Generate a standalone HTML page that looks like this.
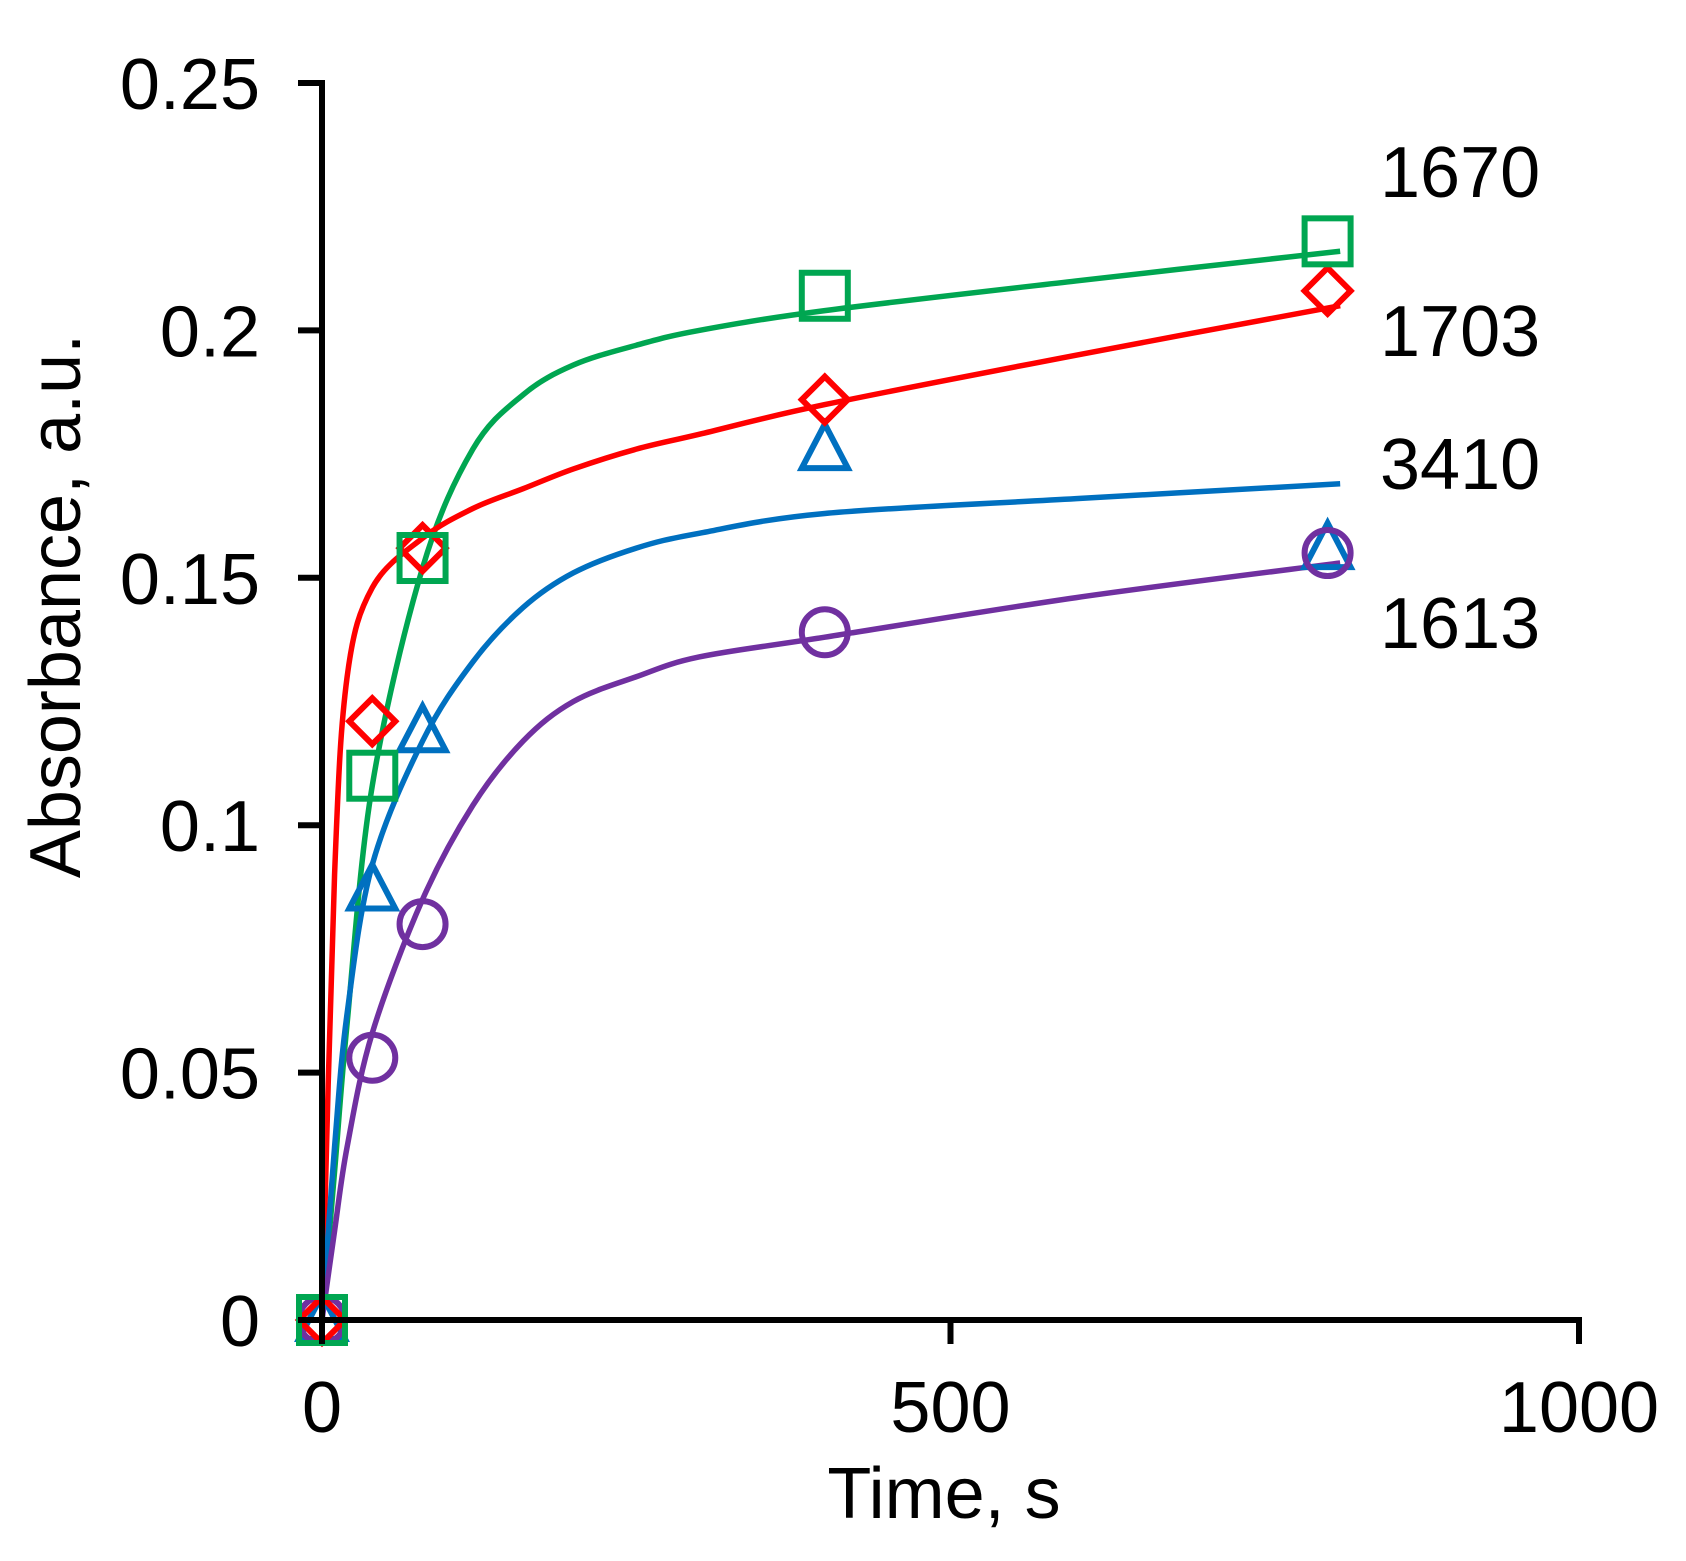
<!DOCTYPE html>
<html><head><meta charset="utf-8"><style>
html,body{margin:0;padding:0;background:#fff;}
svg{display:block;}
text{font-family:"Liberation Sans",Arial,sans-serif;fill:#000;}
</style></head><body>
<svg id="chart" width="1686" height="1561" viewBox="0 0 1686 1561" xmlns="http://www.w3.org/2000/svg">
<g id="curves"></g>
<g id="markers"></g>
<g id="axes"></g>
<text x="944" y="1518" font-size="72" text-anchor="middle">Time, s</text>
<text transform="translate(80,606) rotate(-90)" font-size="72" text-anchor="middle">Absorbance, a.u.</text>
</svg>
<script>
const xTicks = [0, 500, 1000];
const yTicks = [0, 0.05, 0.1, 0.15, 0.2, 0.25];
const yTickLabels = ["0", "0.05", "0.1", "0.15", "0.2", "0.25"];
const times = [0, 40, 80, 400, 800];
const s1670 = [0, 0.110, 0.154, 0.207, 0.218];
const s1703 = [0, 0.121, 0.156, 0.186, 0.208];
const s3410 = [0, 0.087, 0.119, 0.176, 0.156];
const s1613 = [0, 0.053, 0.080, 0.139, 0.155];
const fitT = [0, 10, 20, 40, 80, 120, 160, 200, 250, 300, 400, 600, 810];
const fit1670 = [0, 0.03, 0.06, 0.108, 0.152, 0.176, 0.187, 0.193, 0.197, 0.200, 0.204, 0.210, 0.216];
const fit1703 = [0, 0.09, 0.13, 0.148, 0.158, 0.164, 0.168, 0.172, 0.176, 0.179, 0.185, 0.195, 0.205];
const fit3410 = [0, 0.035, 0.062, 0.092, 0.117, 0.133, 0.144, 0.151, 0.156, 0.159, 0.163, 0.166, 0.169];
const fit1613 = [0, 0.018, 0.035, 0.058, 0.085, 0.104, 0.117, 0.125, 0.130, 0.134, 0.138, 0.146, 0.153];
const labels = ["1670", "1703", "3410", "1613"];

const X0 = 322, X1 = 1579, Y0 = 1320, Y1 = 83;
const sx = t => X0 + t / 1000 * (X1 - X0);
const sy = v => Y0 - v / 0.25 * (Y0 - Y1);
const NS = "http://www.w3.org/2000/svg";
function mk(tag, attrs, parent) {
  const e = document.createElementNS(NS, tag);
  for (const k in attrs) e.setAttribute(k, attrs[k]);
  parent.appendChild(e);
  return e;
}
const axes = document.getElementById('axes');
const curves = document.getElementById('curves');
const markers = document.getElementById('markers');

let a = mk('line', {x1: X0, y1: Y0, x2: X1 + 3, y2: Y0, stroke: '#000', 'stroke-width': 6}, axes);


a = mk('line', {x1: X0, y1: Y0 + 3, x2: X0, y2: Y1 - 3, stroke: '#000', 'stroke-width': 6}, axes);


xTicks.forEach(t => {
  const l = mk('line', {x1: sx(t), y1: Y0, x2: sx(t), y2: Y0 + 24, stroke: '#000', 'stroke-width': 6}, axes);
  
  
  const tx = mk('text', {x: sx(t), y: Y0 + 112, 'font-size': 72, 'text-anchor': 'middle'}, axes);
  tx.textContent = t;
  
  
});
yTicks.forEach((v, i) => {
  const l = mk('line', {x1: X0 - 24, y1: sy(v), x2: X0, y2: sy(v), stroke: '#000', 'stroke-width': 6}, axes);
  
  
  const tx = mk('text', {x: 260, y: sy(v) + 26, 'font-size': 72, 'text-anchor': 'end'}, axes);
  tx.textContent = yTickLabels[i];
  
  
});

function smoothPath(xs, ys) {
  const p = xs.map((t, i) => [sx(t), sy(ys[i])]);
  let d = 'M' + p[0][0] + ',' + p[0][1];
  for (let i = 0; i < p.length - 1; i++) {
    const p0 = p[Math.max(0, i - 1)], p1 = p[i], p2 = p[i + 1], p3 = p[Math.min(p.length - 1, i + 2)];
    const c1 = [p1[0] + (p2[0] - p0[0]) / 6, p1[1] + (p2[1] - p0[1]) / 6];
    const c2 = [p2[0] - (p3[0] - p1[0]) / 6, p2[1] - (p3[1] - p1[1]) / 6];
    d += ' C' + c1 + ' ' + c2 + ' ' + p2;
  }
  return d;
}
const series = [
  {name: '1670', color: '#00a651', fit: fit1670, pts: s1670, shape: 'square', ly: 171},
  {name: '1703', color: '#ff0000', fit: fit1703, pts: s1703, shape: 'diamond', ly: 330},
  {name: '3410', color: '#0070c0', fit: fit3410, pts: s3410, shape: 'triangle', ly: 463},
  {name: '1613', color: '#7030a0', fit: fit1613, pts: s1613, shape: 'circle', ly: 622}
];
series.forEach((s, si) => {
  const p = mk('path', {d: smoothPath(fitT, s.fit), fill: 'none', stroke: s.color, 'stroke-width': 5.5}, curves);
  
  
  const lab = mk('text', {x: 1380, y: s.ly + 26, 'font-size': 72}, axes);
  lab.textContent = labels[si];
  
  
});
[2, 3, 1, 0].forEach(si => {
  const s = series[si];
  times.forEach((t, i) => {
    const cx = sx(t), cy = sy(s.pts[i]);
    let m;
    const st = {fill: 'none', stroke: s.color, 'stroke-width': 6};
    if (s.shape === 'square') m = mk('rect', Object.assign({x: cx - 23, y: cy - 23, width: 46, height: 46}, st), markers);
    else if (s.shape === 'circle') m = mk('circle', Object.assign({cx: cx, cy: cy, r: 23}, st), markers);
    else if (s.shape === 'diamond') m = mk('polygon', Object.assign({points: `${cx},${cy-23} ${cx+23},${cy} ${cx},${cy+23} ${cx-23},${cy}`}, st), markers);
    else m = mk('polygon', Object.assign({points: `${cx},${cy-25} ${cx+23},${cy+19} ${cx-23},${cy+19}`}, st), markers);
    
    
  });
});
</script>
</body></html>
